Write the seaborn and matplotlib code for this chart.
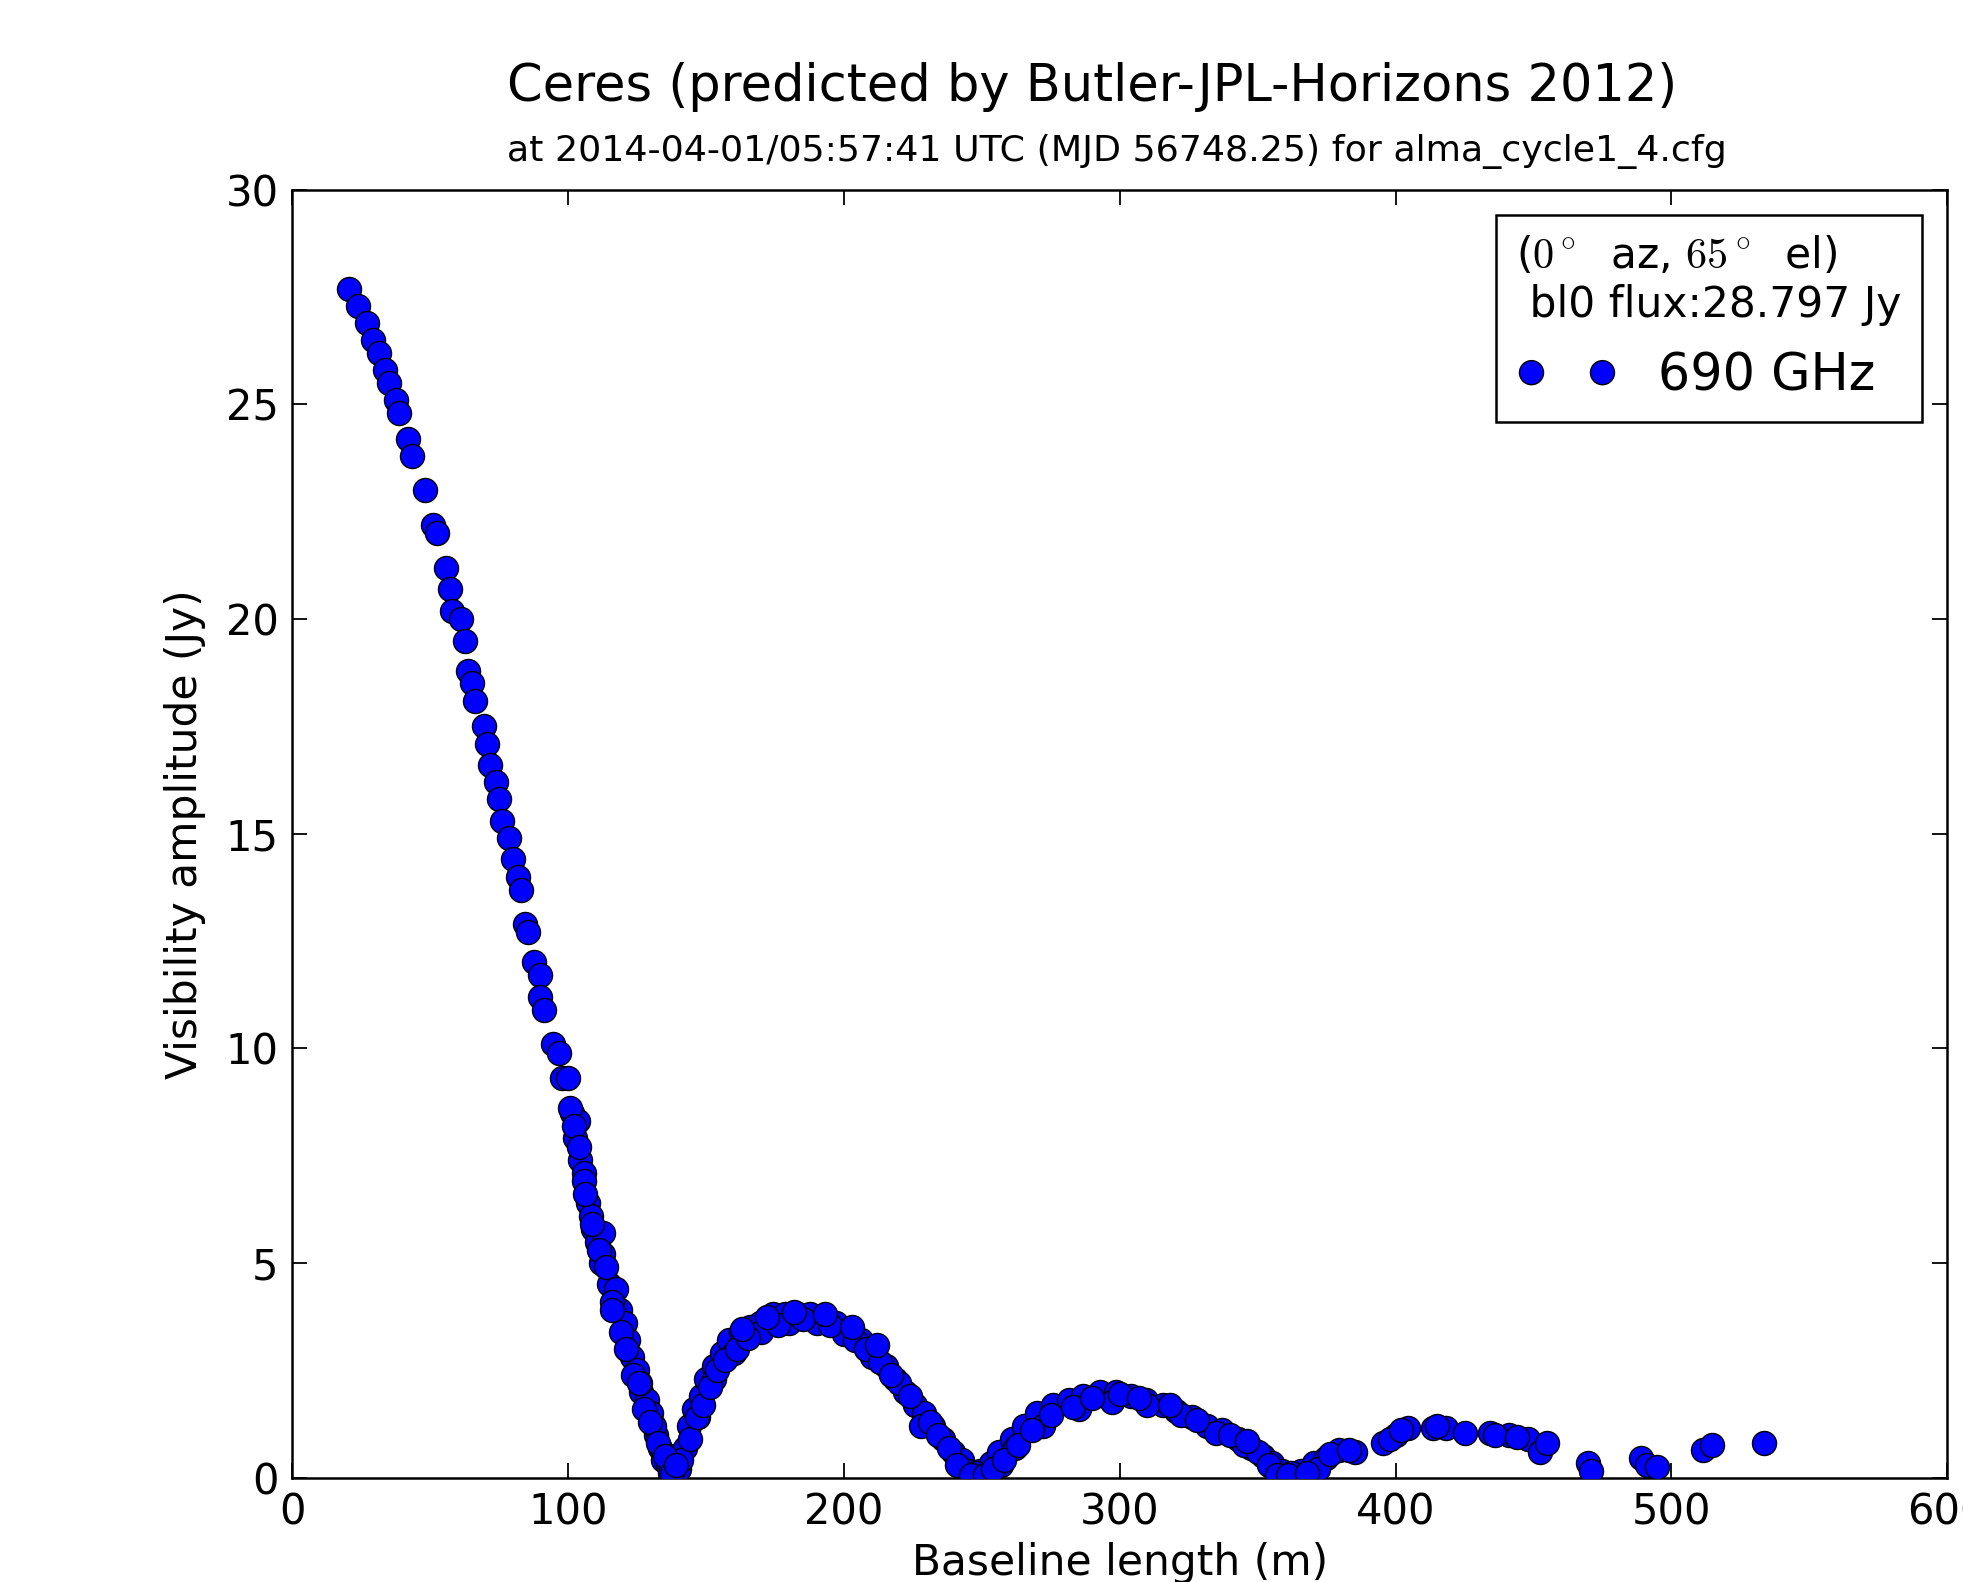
import seaborn as sns
import matplotlib.pyplot as plt
import pandas as pd

# baseline length (m) and visibility amplitude (Jy)
baseline_m = [
    20.5, 23.7, 26.9, 29.2, 31.5, 33.7, 35.1, 37.4, 38.8, 41.9, 43.3, 47.9,
    51.1, 52.4, 55.6, 57.0, 57.9, 61.1, 62.5, 63.8, 65.2, 66.1, 69.3, 70.6,
    71.5, 73.9, 74.8, 76.1, 78.4, 79.8, 81.6, 83.0, 84.3, 85.3, 87.6, 89.8,
    89.8, 91.2, 94.4, 96.7, 97.6, 99.9, 101.2, 103.5, 102.6, 104.4, 105.8,
    105.8, 107.2, 108.1, 109.0, 110.4, 112.6, 112.6, 114.9, 117.2, 118.6,
    120.4, 121.8, 123.1, 124.9, 126.3, 128.6, 130.0, 131.8, 133.1, 134.5,
    136.3, 138.6, 140.0, 142.3, 143.6, 145.5, 148.2, 150.0, 152.8, 155.9,
    158.2, 162.8, 166.0, 169.6, 174.2, 178.7, 183.3, 187.8, 192.4, 197.0,
    201.5, 206.1, 210.7, 215.2, 218.4, 222.1, 225.8, 229.0, 232.1, 235.7,
    239.4, 242.6, 244.9, 249.4, 253.1, 256.3, 260.8, 265.4, 270.0, 275.9,
    281.4, 286.8, 292.7, 298.7, 304.1, 309.6, 315.6, 320.2, 326.0, 331.5,
    337.0, 342.9, 347.5, 352.0, 355.2, 358.9, 365.7, 370.3, 374.8, 379.4,
    385.4, 395.4, 400.0, 404.5, 413.6, 418.2, 425.0, 434.2, 441.0, 447.9,
    452.4, 454.7, 469.8, 470.7, 489.0, 491.2, 494.9, 511.6, 514.8, 533.5,
    # overlapping rows that thicken the curve
    147.0, 153.0, 160.0, 170.0, 180.0, 190.0, 200.0, 210.0, 220.0, 228.0,
    262.0, 272.0, 285.0, 297.0, 310.0, 322.0, 335.0, 345.0, 350.0,
    112.0, 116.0, 126.0, 131.0, 137.0, 141.0, 248.0, 257.0, 362.0, 372.0,
    100.5, 102.0, 104.0, 106.0, 108.5, 111.0, 113.5, 116.0, 119.0, 121.0,
    123.5, 125.5, 127.5, 129.5, 132.5, 135.0, 137.5, 139.0,
    144.0, 146.5, 149.0, 151.5, 154.0, 157.0, 161.0, 165.0, 176.0, 185.0,
    195.0, 204.0, 208.0, 213.0, 217.0, 224.0, 231.0, 234.0, 238.0, 241.0,
    246.0, 251.0, 254.0,
    163.0, 172.0, 182.0, 193.0, 203.0, 212.0,
    258.0, 263.0, 268.0, 275.0, 283.0, 290.0, 300.0, 307.0, 318.0, 328.0,
    340.0, 346.0, 354.0, 357.0, 361.0, 368.0,
    376.0, 383.0, 398.0, 402.0, 415.0, 436.0, 444.0,
]
amplitude_jy = [
    27.7, 27.3, 26.9, 26.5, 26.2, 25.8, 25.5, 25.1, 24.8, 24.2, 23.8, 23.0,
    22.2, 22.0, 21.2, 20.7, 20.2, 20.0, 19.5, 18.8, 18.5, 18.1, 17.5, 17.1,
    16.6, 16.2, 15.8, 15.3, 14.9, 14.4, 14.0, 13.7, 12.9, 12.7, 12.0, 11.7,
    11.2, 10.9, 10.1, 9.9, 9.3, 9.3, 8.5, 8.3, 7.9, 7.4, 7.1,
    6.9, 6.4, 6.1, 5.8, 5.5, 5.7, 5.2, 4.5, 4.4, 3.9,
    3.6, 3.2, 2.8, 2.5, 2.0, 1.8, 1.5, 1.0, 0.7, 0.4,
    0.3, 0.5, 0.2, 0.7, 1.2, 1.6, 1.9, 2.3, 2.6, 2.9,
    3.2, 3.4, 3.5, 3.6, 3.8, 3.8, 3.8, 3.8, 3.7, 3.6,
    3.4, 3.2, 2.9, 2.6, 2.3, 2.0, 1.7, 1.5, 1.2, 0.9,
    0.6, 0.4, 0.15, 0.15, 0.35, 0.6, 0.9, 1.2, 1.5, 1.7,
    1.8, 1.9, 2.0, 2.0, 1.9, 1.8, 1.7, 1.55, 1.4, 1.2,
    1.1, 0.9, 0.7, 0.5, 0.35, 0.15, 0.15, 0.35, 0.45, 0.65,
    0.6, 0.8, 1.0, 1.15, 1.15, 1.15, 1.05, 1.05, 1.0, 0.9,
    0.6, 0.8, 0.35, 0.15, 0.45, 0.3, 0.25, 0.65, 0.75, 0.8,
    1.4, 2.3, 2.9, 3.4, 3.6, 3.6, 3.35, 2.8, 2.2, 1.2,
    0.7, 1.2, 1.6, 1.75, 1.7, 1.45, 1.05, 0.75, 0.6,
    5.0, 4.1, 2.2, 1.2, 0.1, 0.4, 0.1, 0.3, 0.1, 0.2,
    8.6, 8.2, 7.7, 6.6, 5.9, 5.3, 4.9, 3.9, 3.4, 3.0,
    2.4, 2.2, 1.6, 1.3, 0.8, 0.5, 0.1, 0.3,
    0.9, 1.4, 1.7, 2.1, 2.5, 2.75, 3.0, 3.25, 3.55, 3.7,
    3.55, 3.2, 3.0, 2.7, 2.4, 1.9, 1.3, 1.0, 0.7, 0.3,
    0.05, 0.05, 0.2,
    3.45, 3.75, 3.85, 3.8, 3.5, 3.1,
    0.4, 0.75, 1.1, 1.45, 1.65, 1.85, 1.95, 1.85, 1.7, 1.35,
    1.0, 0.85, 0.3, 0.05, 0.05, 0.1,
    0.55, 0.65, 0.9, 1.1, 1.2, 1.0, 0.95,
]

df = pd.DataFrame({"baseline": baseline_m, "amp": amplitude_jy})

sns.set_style("ticks")
plt.rcParams["font.family"] = ["DejaVu Sans"]
plt.rcParams["mathtext.fontset"] = "cm"
plt.rcParams.update({
    "xtick.direction": "in", "ytick.direction": "in",
    "xtick.top": True, "ytick.right": True,
    "xtick.major.size": 11, "ytick.major.size": 11,
    "xtick.major.width": 1.3, "ytick.major.width": 1.3,
    "axes.linewidth": 1.8, "axes.edgecolor": "black",
    "xtick.color": "black", "ytick.color": "black",
    "text.color": "black", "axes.labelcolor": "black",
})

fig = plt.figure(figsize=(19.63, 15.82), dpi=100)
ax = fig.add_axes([0.149, 0.066, 0.843, 0.814])

sns.scatterplot(data=df, x="baseline", y="amp", color="blue",
                edgecolor="black", linewidth=1.0, s=300,
                label="690 GHz", ax=ax, zorder=3)

ax.set_xlim(0, 600)
ax.set_ylim(0, 30)
ax.set_xticks(range(0, 601, 100))
ax.set_yticks(range(0, 31, 5))
ax.tick_params(labelsize=30, pad=10)
ax.set_xlabel("Baseline length (m)", fontsize=30.5, labelpad=6)
ax.set_ylabel("Visibility amplitude (Jy)", fontsize=30.5)
ax.yaxis.set_label_coords(-0.052, 0.5)

leg = ax.legend(title="($0^\\circ$  az, $65^\\circ$  el)\n bl0 flux:28.797 Jy",
                loc="upper right", scatterpoints=2, scatteryoffsets=[0.5],
                fontsize=36.5, title_fontsize=30.5, frameon=True,
                fancybox=False, framealpha=1, edgecolor="black",
                alignment="left", borderaxespad=0.5)
leg.get_frame().set_linewidth(1.8)

fig.text(0.2583, 0.936, "Ceres (predicted by Butler-JPL-Horizons 2012)",
         fontsize=36.7, ha="left", va="baseline")
fig.text(0.2583, 0.898,
         "at 2014-04-01/05:57:41 UTC (MJD 56748.25) for alma_cycle1_4.cfg",
         fontsize=26.2, ha="left", va="baseline")

fig.savefig("out.png", dpi=100)
